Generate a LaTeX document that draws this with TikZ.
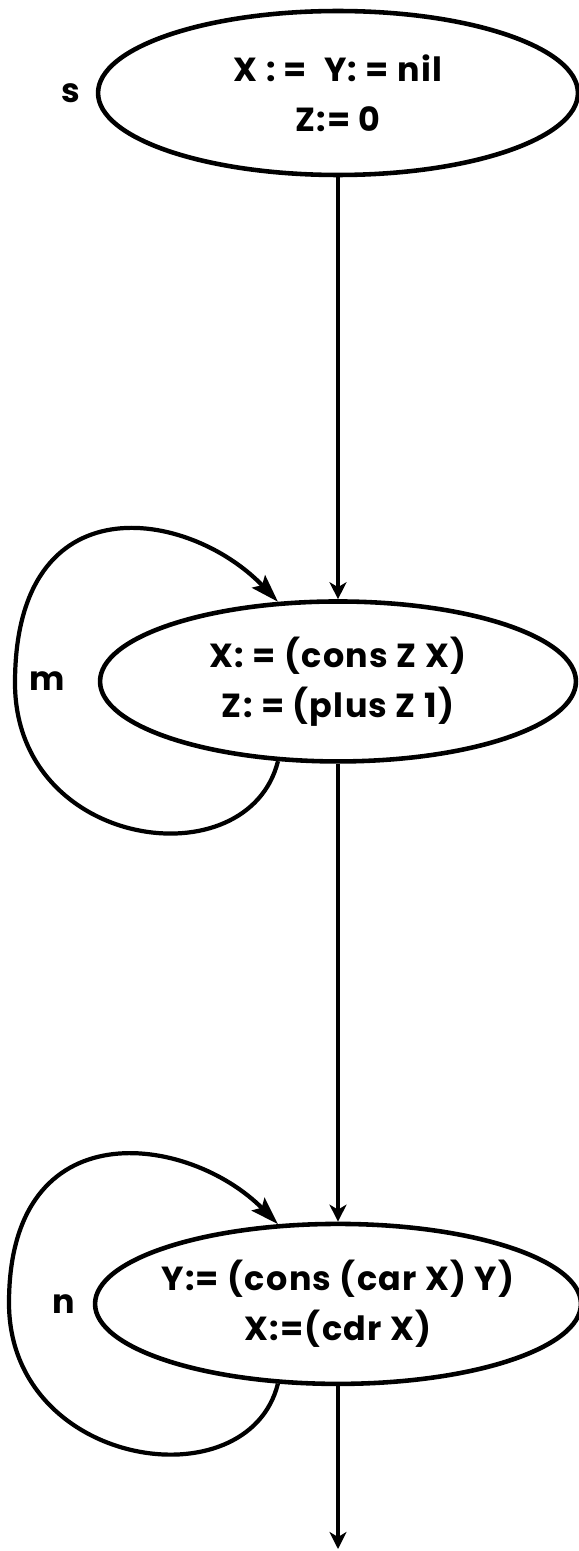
\documentclass[tikz,border=0pt]{standalone}
\usepackage{fontspec}
\setmainfont{Poppins}[LetterSpace=4]
\usetikzlibrary{shapes.geometric, positioning, arrows.meta}

\begin{document}
\begin{tikzpicture}[
    x=0.02cm, y=-0.02cm,
    node distance=8.44cm,
    block/.style={
      ellipse,
      draw,
      line width=2.6pt,
      minimum width=9.6cm,
      minimum height=3.28cm,
      inner sep=-0.4cm,
      align=center,
      font=\fontsize{19}{28.5}\selectfont\bfseries
    },
    tag/.style={inner sep=0pt, font=\fontsize{19}{20}\selectfont\bfseries},
    flow/.style={-{Stealth[length=0.34cm, width=0.34cm, inset=0.1cm]}, line width=1.9pt},
    back/.style={-{Stealth[length=0.56cm, width=0.36cm, inset=0.1cm]}, line width=2.4pt}
  ]
    \useasboundingbox (0,0) rectangle (578,1551);

    \node[block] at (338,93)                                          (s) {X : =\ \ Y: = nil\\Z:= 0};
    \node[block, below=of s, minimum width=9.52cm, minimum height=3.2cm]   (m) {X: = (cons Z X)\\Z: = (plus Z 1)};
    \node[block, below=9.16cm of m, minimum width=9.72cm, minimum height=3.2cm] (n) {Y:= (cons (car X) Y)\\X:=(cdr X)};

    \node[tag, left=0.3cm of s]  (ls) {s};
    \node[tag, left=0.66cm of m] (lm) {m};
    \node[tag, left=0.34cm of n] (ln) {n};

    \coordinate (mw)   at (15,683);
    \coordinate (nw)   at (9,1303);
    \coordinate (exit) at (338,1549);

    \draw[flow] (s) -- (m);
    \draw[flow] (m) -- (n);
    \draw[flow] (n) -- (exit);

    \draw[back] (m.233) .. controls +(-30,120) and +(0,167) .. (mw)
                        .. controls +(0,-203) and +(-89,-93) .. (m.127);
    \draw[back] (n.233) .. controls +(-30,120) and +(0,165) .. (nw)
                        .. controls +(0,-195) and +(-89,-90) .. (n.127);
\end{tikzpicture}
\end{document}
